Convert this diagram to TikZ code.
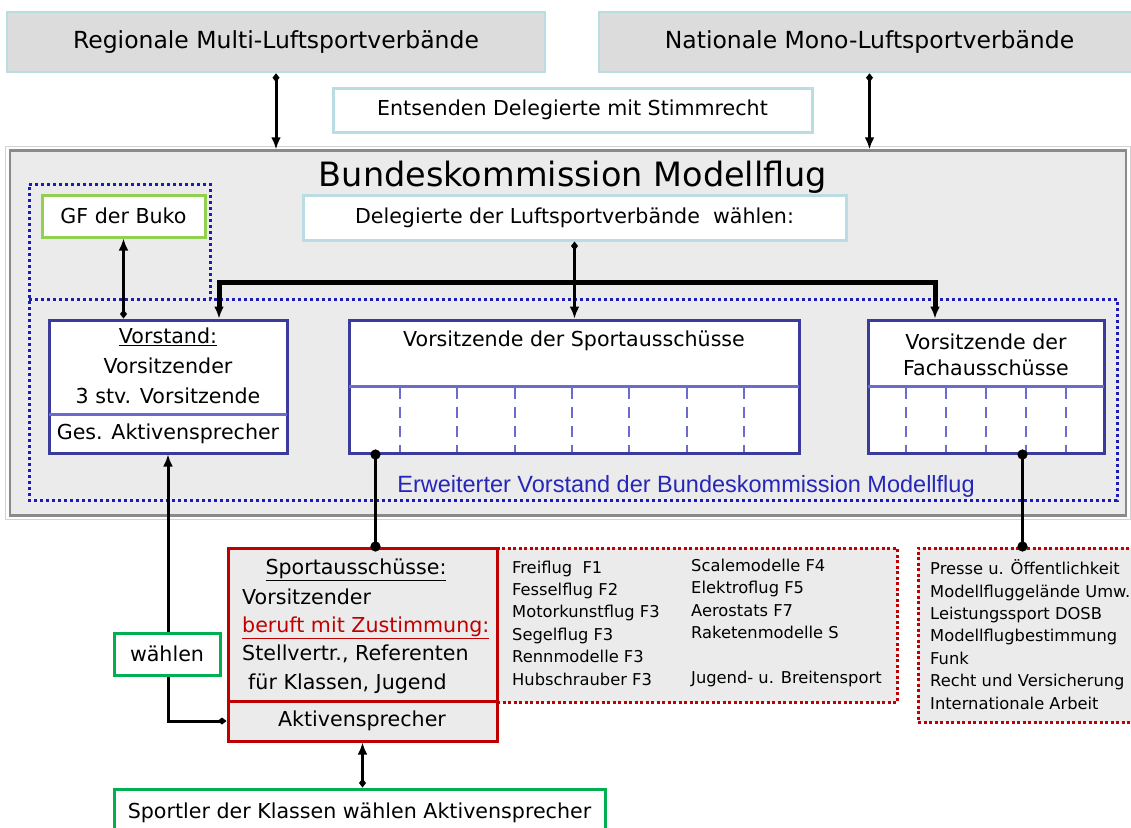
\documentclass[tikz,border=0pt]{standalone}
\usepackage{fontspec}
\setmainfont{DejaVu Sans}
\newfontfamily\arialfont{Liberation Sans}
\usetikzlibrary{arrows.meta}
\definecolor{boxgray}{HTML}{DCDCDC}
\definecolor{paleblue}{HTML}{B9DDE2}
\definecolor{panelgray}{HTML}{EBEBEB}
\definecolor{framegray}{HTML}{8A8A8A}
\definecolor{dotblue}{HTML}{1C1CB4}
\definecolor{navyframe}{HTML}{3B3B9B}
\definecolor{lilac}{HTML}{6A6ACF}
\definecolor{limegreen}{HTML}{92D050}
\definecolor{darkgreen}{HTML}{00B050}
\definecolor{darkred}{HTML}{C00000}
\definecolor{textblue}{HTML}{2626B8}

\begin{document}
\begin{tikzpicture}[x=1pt, y=-1pt,
  bigtxt/.style={font=\fontsize{23.5}{28}\selectfont},
  midtxt/.style={font=\fontsize{20.6}{25}\selectfont, inner sep=0pt},
  smalltxt/.style={font=\fontsize{16.3}{22.4}\selectfont, inner sep=0pt, align=left, anchor=west},
  topbox/.style={rectangle, draw=paleblue, fill=boxgray, line width=2.5pt, bigtxt},
  whitebox/.style={rectangle, fill=white, line width=3pt, midtxt},
  panel/.style={rectangle, draw=navyframe, fill=white, line width=3pt},
  redpanel/.style={rectangle, draw=darkred, fill=panelgray, line width=3pt},
  redlist/.style={rectangle, draw=darkred, fill=panelgray, line width=3pt, dash pattern=on 3pt off 2.5pt},
  dotline/.style={draw=dotblue, line width=3pt, dash pattern=on 3pt off 3pt},
  divline/.style={draw=lilac, line width=3pt},
  subdash/.style={draw=lilac, line width=2pt, dash pattern=on 11pt off 8pt},
  conn/.style={line width=3pt, black},
  bracket/.style={line width=5pt, black},
  tiparr/.tip={Latex[length=12pt,width=10pt]},
  tipdia/.tip={Diamond[length=9pt,width=7pt]},
  tipdot/.tip={Circle[length=10pt]}]
\useasboundingbox (0,0) rectangle (1131,827);

% associations on top
\node[topbox, minimum width=538, minimum height=60] (regional) at (276,42) {Regionale Multi-Luftsportverbände};
\node[topbox, minimum width=541, minimum height=60] (national) at (869.5,42) {Nationale Mono-Luftsportverbände};
\node[whitebox, draw=paleblue, minimum width=479, minimum height=44] (entsenden) at (572.5,110) {Entsenden Delegierte mit Stimmrecht};

% commission panel
\node[rectangle, fill=panelgray, draw=framegray, line width=2.5pt, minimum width=1116, minimum height=365] (bigbox) at (568,333) {};
\draw[gray!35, line width=1pt] ([shift={(-3,-3)}]bigbox.north west) rectangle ([shift={(3,3)}]bigbox.south east);
\node[font=\fontsize{33.5}{40}\selectfont, inner sep=0pt] (title) at (573,177) {Bundeskommission Modellflug};
\draw[dotline] (29,184) -- (210,184) -- (210,299) -- (1117,299) -- (1117,500) -- (29,500) -- cycle;
\draw[dotline] (29,299) -- (210,299);
\node[whitebox, draw=limegreen, minimum width=163, minimum height=42] (gf) at (123.5,216) {GF der Buko};
\node[whitebox, draw=paleblue, minimum width=543, minimum height=45] (delegierte) at (574.5,217.5) {Delegierte der Luftsportverbände\ \ wählen:};

\node[panel, minimum width=238, minimum height=133] (vorstand) at (168,386.5) {};
\node[panel, minimum width=450, minimum height=133] (sport) at (574,386.5) {};
\node[panel, minimum width=236, minimum height=133] (fach) at (986,386.5) {};
\draw[divline] (49,414) -- (287,414);
\draw[divline] (349,386) -- (799,386);
\draw[divline] (868,386) -- (1104,386);
\foreach \i in {0,...,6}
  \draw[subdash] ({400+57.3*\i},388) -- ({400+57.3*\i},452);
\foreach \x in {906,946,986,1026,1066}
  \draw[subdash] (\x,388) -- (\x,452);

\node[align=center, inner sep=0pt, font=\fontsize{20.6}{30}\selectfont] (vorstandtxt) at (168,366) {\underline{Vorstand:}\\Vorsitzender\\3 stv. Vorsitzende};
\node[midtxt] (gesakt) at (168,434) {Ges. Aktivensprecher};
\node[midtxt] (sporttxt) at (574,341) {Vorsitzende der Sportausschüsse};
\node[align=center, inner sep=0pt, font=\fontsize{20.6}{26}\selectfont] (fachtxt) at (986,355) {Vorsitzende der\\Fachausschüsse};
\node[font=\arialfont\fontsize{23.5}{28}\selectfont, text=textblue, inner sep=0pt] (erweitert) at (686,486) {Erweiterter Vorstand der Bundeskommission Modellflug};

% committees below
\node[redlist, minimum width=400, minimum height=154] (klassen) at (697,625) {};
\node[redlist, minimum width=222, minimum height=174] (fachlist) at (1029,635) {};
\node[redpanel, minimum width=269, minimum height=193] (redbox) at (362.5,644.5) {};
\draw[draw=darkred, line width=3pt] (228,701) -- (497,701);
\node[midtxt] (sporttitle) at (356,570) {\underline{Sportausschüsse:}};
\node[align=left, anchor=west, inner sep=0pt, font=\fontsize{20.6}{28.4}\selectfont] (sportbody) at (242,641) {Vorsitzender\\\textcolor{darkred}{\underline{beruft mit Zustimmung:}}\\Stellvertr., Referenten\\\hspace{6pt}für Klassen, Jugend};
\node[midtxt] (aktiv) at (362,721) {Aktivensprecher};

\node[smalltxt] (klassenA) at (512,623) {Freiflug\ \ F1\\Fesselflug F2\\Motorkunstflug F3\\Segelflug F3\\Rennmodelle F3\\Hubschrauber F3};
\node[smalltxt] (klassenB) at (691,623) {Scalemodelle F4\\Elektroflug F5\\Aerostats F7\\Raketenmodelle S\\\mbox{}\\Jugend- u. Breitensport};
\node[smalltxt] (fachnamen) at (930,634.5) {Presse u. Öffentlichkeit\\Modellfluggelände Umw.\\Leistungssport DOSB\\Modellflugbestimmung\\Funk\\Recht und Versicherung\\Internationale Arbeit};

\node[whitebox, draw=darkgreen, minimum width=491, minimum height=48] (sportler) at (359.5,813) {Sportler der Klassen wählen Aktivensprecher};

% connectors
\draw[conn, tipdia-tiparr] (regional.south) -- (regional.south |- bigbox.north);
\draw[conn, tipdia-tiparr] (national.south) -- (national.south |- bigbox.north);
\draw[conn, tipdia-tiparr] (gf.south |- vorstand.north) -- (gf.south);
\draw[conn, tipdia-tiparr] (delegierte.south) -- (delegierte.south |- sport.north);
\coordinate (bl) at (219,282);
\coordinate (br) at (935,282);
\draw[bracket, tiparr-tiparr] (vorstand.north -| bl) -- (bl) -- (br) -- (fach.north -| br);
\draw[conn, tipdot-tipdot] ([xshift=28,yshift=5]sport.south west) -- ([xshift=28]sport.south west |- redbox.north) -- ++(0,5);
\draw[conn, tipdot-tipdot] ([xshift=156,yshift=5]fach.south west) -- ([xshift=156]fach.south west |- fachlist.north) -- ++(0,5);
\draw[conn, tipdia-tiparr] (redbox.west |- aktiv) -| (vorstand.south);
\draw[conn, tiparr-tipdia] (redbox.south) -- (redbox.south |- sportler.north);
\node[whitebox, draw=darkgreen, minimum width=106, minimum height=42] (waehlen) at (167,654) {wählen};
\end{tikzpicture}
\end{document}
